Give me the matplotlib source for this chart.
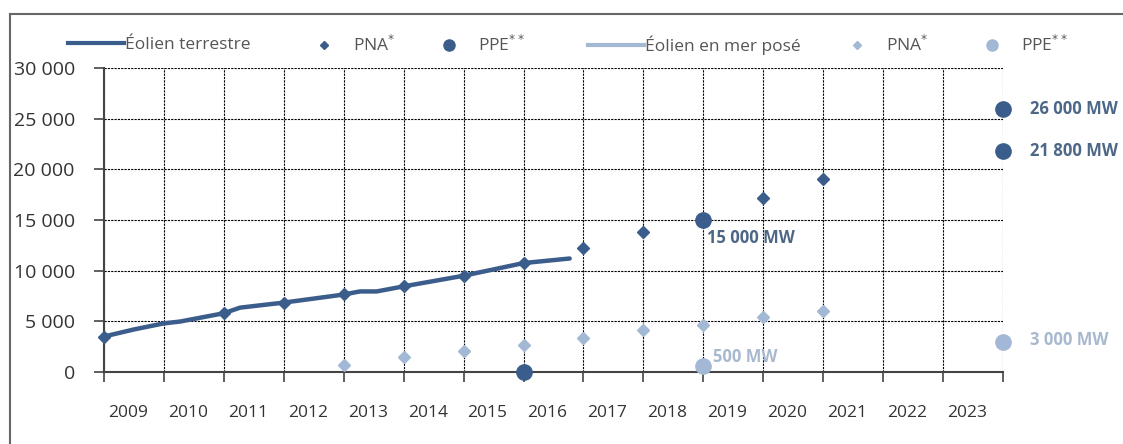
import numpy as np
import matplotlib.pyplot as plt
from matplotlib.lines import Line2D

# colours
dark = "#3a5d8c"
light = "#a2b8d5"
dark_txt = "#4d6787"
light_txt = "#a8b9cf"

# Éolien terrestre, installed capacity (MW), x = end of year
terrestre_x = [2008.0, 2008.5, 2009.0, 2009.27, 2010.0, 2010.27, 2011.0, 2011.82, 2012.0,
               2012.27, 2012.55, 2013.0, 2014.0, 2015.0, 2015.77]
terrestre_y = [3500, 4200, 4800, 4980, 5800, 6350, 6850, 7500, 7650,
               7950, 7950, 8450, 9500, 10750, 11200]

# PNA* onshore trajectory
pna_t_x = [2008, 2010, 2011, 2012, 2013, 2014, 2015, 2016, 2017, 2019, 2020]
pna_t_y = [3500, 5800, 6850, 7650, 8450, 9500, 10750, 12250, 13800, 17200, 19000]

# PPE** onshore
ppe_t_x = [2015, 2018, 2023, 2023]
ppe_t_y = [0, 15000, 26000, 21800]

# PNA* offshore trajectory
pna_m_x = [2012, 2013, 2014, 2015, 2016, 2017, 2018, 2019, 2020]
pna_m_y = [700, 1500, 2100, 2700, 3400, 4100, 4650, 5450, 6050]

# PPE** offshore
ppe_m_x = [2018, 2023]
ppe_m_y = [600, 3000]

years = list(range(2009, 2024))
yticks = [0, 5000, 10000, 15000, 20000, 25000, 30000]
ytick_labels = ["0", "5 000", "10 000", "15 000", "20 000", "25 000", "30 000"]

fig = plt.figure(figsize=(11.23, 4.44), dpi=100)
ax = fig.add_axes([104 / 1123, 1 - 372 / 444, (1003 - 104) / 1123, (372 - 68) / 444])

ax.plot(terrestre_x, terrestre_y, color=dark, lw=3.2, solid_capstyle="round",
        solid_joinstyle="round", zorder=3)
ax.plot(pna_t_x, pna_t_y, "D", color=dark, ms=6, ls="none", zorder=4, clip_on=False)
ax.plot(ppe_t_x, ppe_t_y, "o", color=dark, ms=11, ls="none", zorder=5, clip_on=False)
ax.plot(pna_m_x, pna_m_y, "D", color=light, ms=6, ls="none", zorder=4, clip_on=False)
ax.plot(ppe_m_x, ppe_m_y, "o", color=light, ms=11, ls="none", zorder=5, clip_on=False)

# value labels
lab_kw = dict(textcoords="offset pixels", fontsize=12, fontweight="bold",
              family="Open Sans", va="center", ha="left", annotation_clip=False)
ax.annotate("15 000 MW", (ppe_t_x[1], ppe_t_y[1]), xytext=(4, -18), color=dark_txt, **lab_kw)
ax.annotate("26 000 MW", (ppe_t_x[2], ppe_t_y[2]), xytext=(27, 0), color=dark_txt, **lab_kw)
ax.annotate("21 800 MW", (ppe_t_x[3], ppe_t_y[3]), xytext=(27, 0), color=dark_txt, **lab_kw)
ax.annotate("500 MW", (ppe_m_x[0], ppe_m_y[0]), xytext=(10, 9), color=light_txt, **lab_kw)
ax.annotate("3 000 MW", (ppe_m_x[1], ppe_m_y[1]), xytext=(27, 2), color=light_txt, **lab_kw)

ax.set_xlim(2008, 2023)
ax.set_ylim(0, 30000)

ax.set_xticks(np.arange(2008, 2024))
ax.set_xticklabels([])
ax.set_xticks([y - 0.6 for y in years], minor=True)
ax.set_xticklabels([str(y) for y in years], minor=True, fontsize=12.5,
                   family="Open Sans", color="#333333")
ax.tick_params(axis="x", which="major", direction="out", length=7, width=1.2, color="#444444")
ax.tick_params(axis="x", which="minor", length=0, pad=24)

ax.set_yticks(yticks)
ax.set_yticklabels(ytick_labels, fontsize=14, family="Open Sans", color="#333333")
ax.tick_params(axis="y", direction="out", length=7, width=1.2, color="#444444", pad=14)

ax.grid(True, which="major", color="black", ls=(0, (2, 1)), lw=0.8, zorder=1)
for s in ["top", "right"]:
    ax.spines[s].set_visible(False)
for s in ["left", "bottom"]:
    ax.spines[s].set_color("#444444")
    ax.spines[s].set_linewidth(1.5)

# legend, one entry per slot
handles = [
    (Line2D([], [], color=dark, lw=3), "Éolien terrestre", 68),
    (Line2D([], [], marker="D", color=dark, ms=4, ls="none"), "PNA$^{*}$", 296),
    (Line2D([], [], marker="o", color=dark, ms=8, ls="none"), "PPE$^{**}$", 421),
    (Line2D([], [], color=light, lw=3), "Éolien en mer posé", 588),
    (Line2D([], [], marker="D", color=light, ms=4, ls="none"), "PNA$^{*}$", 829),
    (Line2D([], [], marker="o", color=light, ms=8, ls="none"), "PPE$^{**}$", 964),
]
for h, label, xp in handles:
    leg = fig.legend([h], [label], loc="center left", bbox_to_anchor=(xp / 1123, 1 - 45 / 444),
                     frameon=False, handlelength=3.2, handletextpad=0.1, borderpad=0,
                     borderaxespad=0, prop={"family": "Open Sans", "size": 12.5})
    for t in leg.get_texts():
        t.set_color("#555555")

# outer frame
fig.add_artist(Line2D([10 / 1123, 10 / 1123], [0, 1 - 14 / 444], transform=fig.transFigure,
                      color="#666666", lw=1.5))
fig.add_artist(Line2D([10 / 1123, 1], [1 - 14 / 444, 1 - 14 / 444], transform=fig.transFigure,
                      color="#666666", lw=1.5))

fig.savefig("out.png", dpi=100)
